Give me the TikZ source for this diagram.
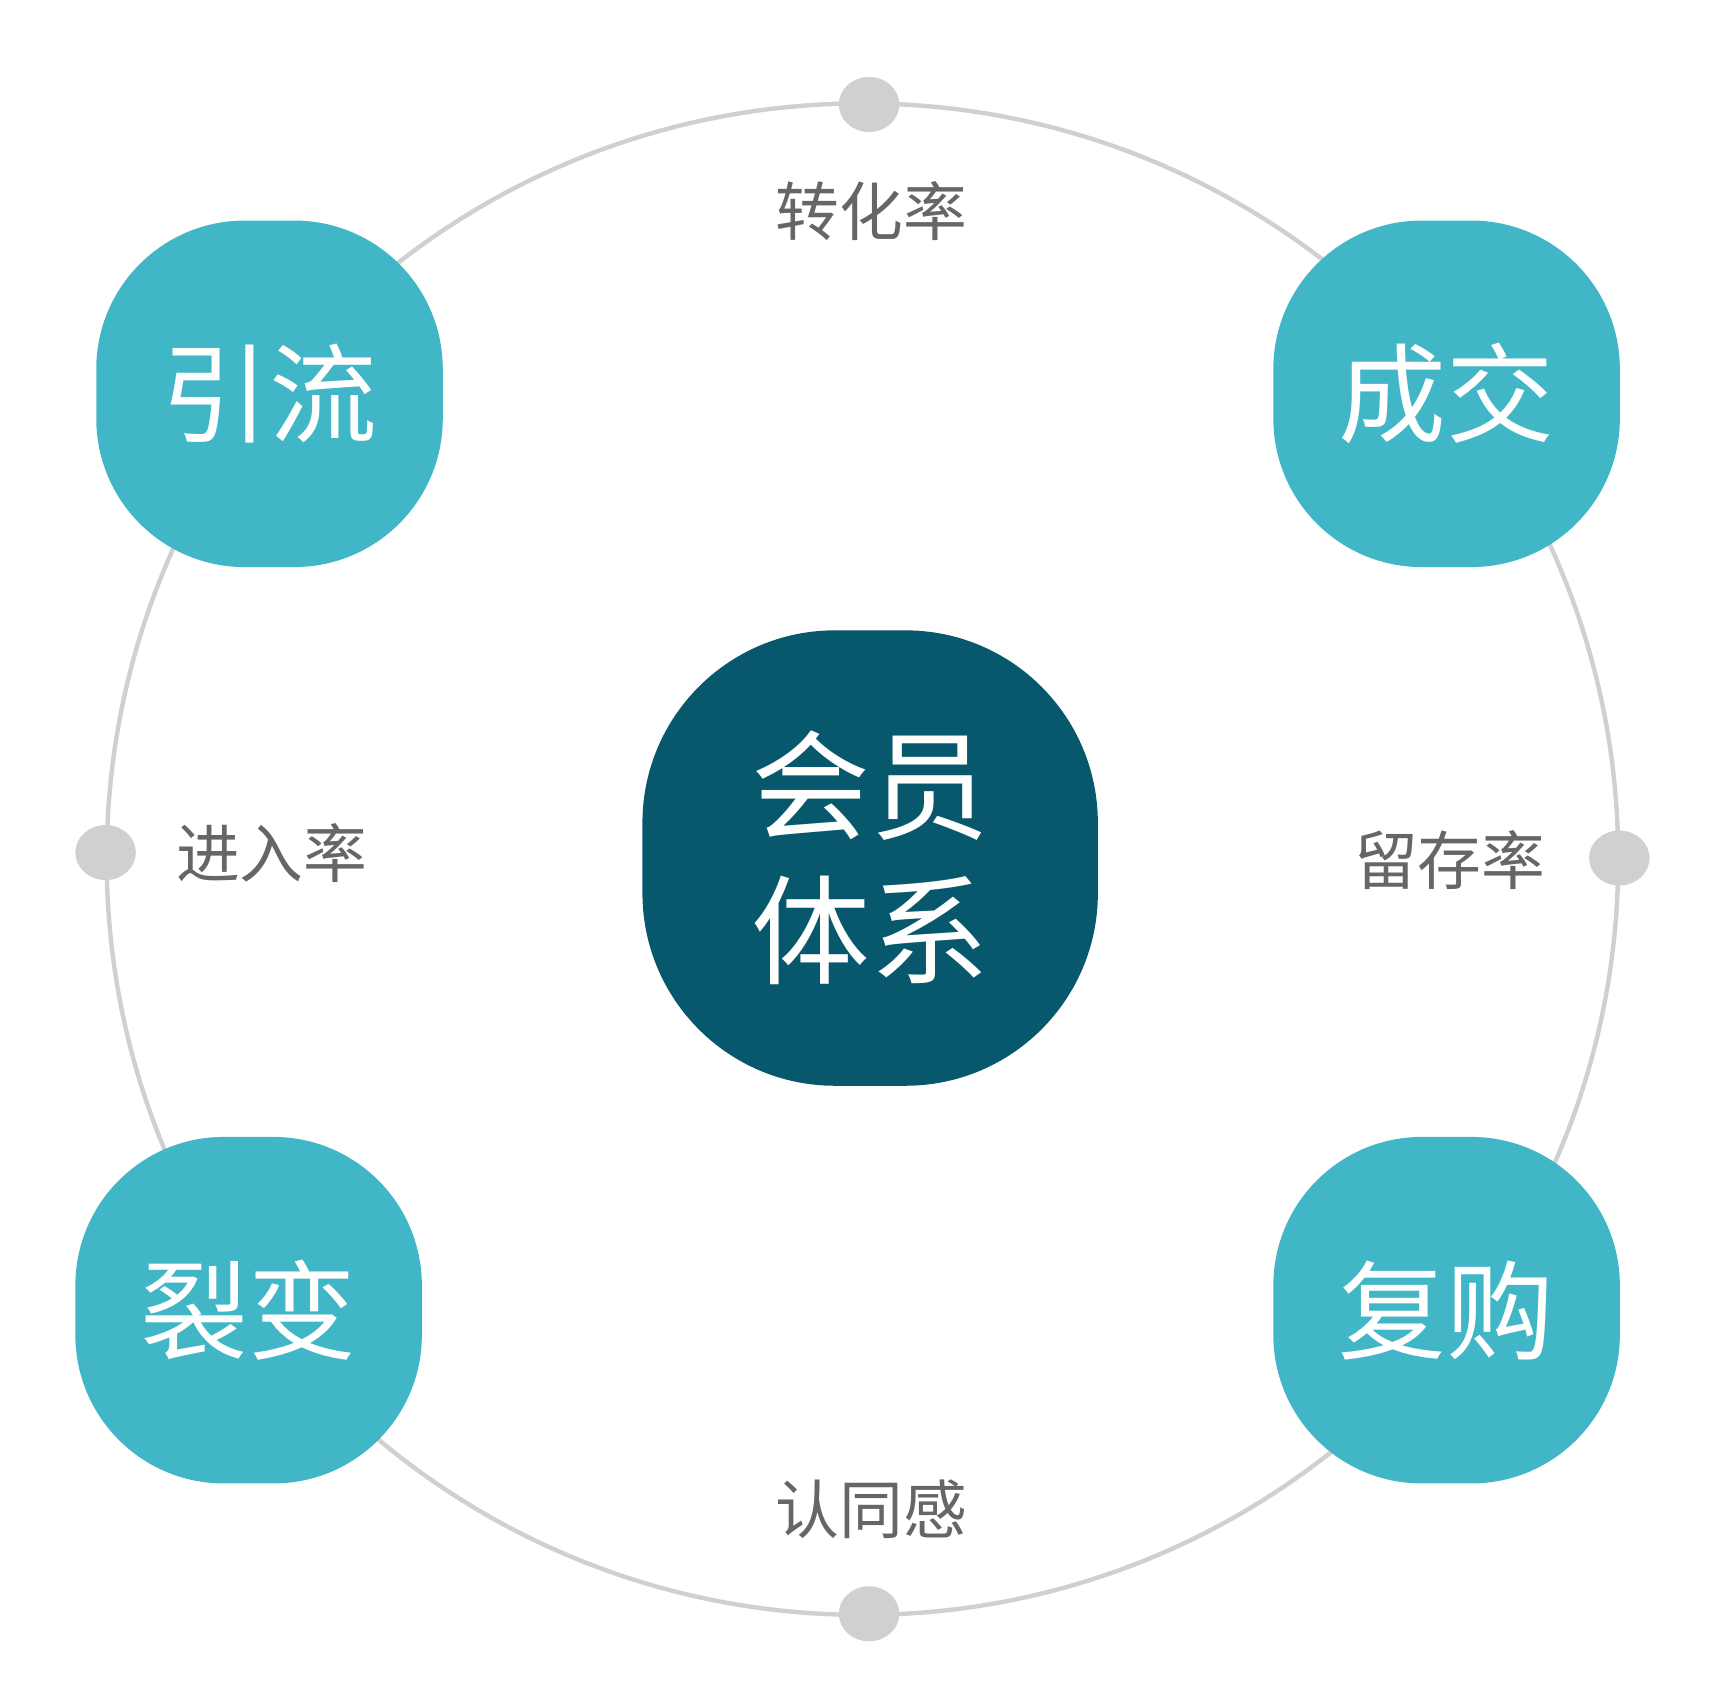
\documentclass[tikz,border=0pt]{standalone}
\usepackage{fontspec}
\usetikzlibrary{shapes.geometric}
\setmainfont{Noto Sans CJK SC}
\definecolor{teal1}{HTML}{41B6C6}
\definecolor{deep}{HTML}{07586C}
\definecolor{ring}{HTML}{D0D0D0}
\definecolor{lab}{HTML}{666666}
\begin{document}
\begin{tikzpicture}[x=1pt,y=-1pt,
  blob/.style={fill=teal1,rounded corners=135,minimum size=315,inner sep=0,text=white,font=\fontsize{98}{110}\selectfont,align=center},
  core/.style={fill=deep,rounded corners=175,minimum size=414,inner sep=0,text=white,font=\fontsize{108}{132}\selectfont,align=center},
  dot/.style={ellipse,fill=ring,minimum width=55,minimum height=50,inner sep=0},
  lbl/.style={text=lab,font=\fontsize{58}{64}\selectfont}]
\useasboundingbox (0,0) rectangle (1559,1552);
\draw[ring,line width=4] (784,781) circle (687);
\node[dot] (dt) at (790,95) {};
\node[dot] (db) at (790,1467) {};
\node[dot] (dl) at (96,775) {};
\node[dot] (dr) at (1472,780) {};
\node[blob] (a) at (245,358) {引流};
\node[blob] (b) at (1315,358) {成交};
\node[blob] (c) at (226,1191) {裂变};
\node[blob] (d) at (1315,1191) {复购};
\node[core] (m) at (791,780) {会员\\体系};
\node[lbl] (l1) at (792,192) {转化率};
\node[lbl] (l2) at (247,775) {进入率};
\node[lbl] (l3) at (1318,782) {留存率};
\node[lbl] (l4) at (792,1372) {认同感};
\end{tikzpicture}
\end{document}
